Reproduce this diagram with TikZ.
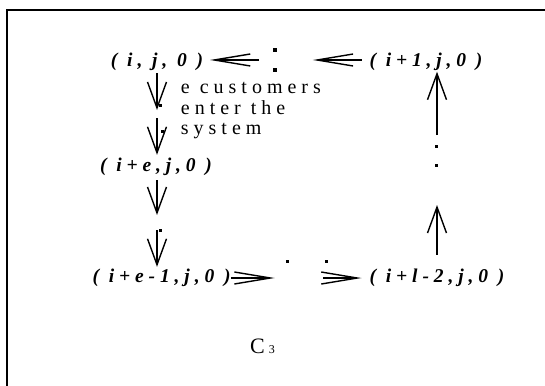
\documentclass[tikz,border=0pt]{standalone}
\usepackage{fontspec}
\setmainfont{Liberation Serif}
\newfontfamily\tuplefam{Liberation Serif}[LetterSpace=25]
\newfontfamily\notefam{Liberation Serif}[LetterSpace=25]
\usetikzlibrary{arrows.meta}

\tikzset{
  tuple/.style={inner sep=0pt, text height=12.5pt, text depth=4.5pt,
    font=\tuplefam\bfseries\itshape\fontsize{19.5}{22}\selectfont},
  dotn/.style={rectangle, fill, inner sep=0pt, minimum size=3pt},
  vtip/.style={line width=1.4pt, -{Straight Barb[length=26pt,width=19pt]}},
  htip/.style={line width=1.4pt, -{Straight Barb[length=36pt,width=12pt]}},
}

\begin{document}
\begin{tikzpicture}[x=1pt, y=-1pt]

\def\colL{157}
\def\colR{437}
\def\rowT{63}
\def\rowB{278}

\useasboundingbox (0,0) rectangle (545,385);
\draw[line width=2.3pt] (7,400) -- (7,10) -- (560,10);

% states
\node[tuple] (n0) at (\colL,\rowT) {( i, j, 0 )};
\node[tuple] (n1) at (426,\rowT) {( i+1,j,0 )};
\node[tuple] (ne) at (156,167.5) {( i+e,j,0 )};
\node[tuple] (ne1) at (161.6,\rowB) {( i+e-1,j,0 )};
\node[tuple] (nl2) at (\colR,\rowB) {( i+l-2,j,0 )};

% dots
\node[dotn, minimum size=4pt] (ca) at (274.6,50) {};
\node[dotn, minimum size=4pt] (cb) at (274.6,70) {};
\coordinate (cl) at (274.6,60);
\node[dotn] (d1) at (160.6,105) {};
\node[dotn] (d2) at (162.7,131.7) {};
\node[dotn] (d3) at (160,230) {};
\node[dotn] (d4) at (287.8,261.7) {};
\node[dotn] (d5) at (326.7,261.7) {};
\node[dotn] (d6) at (436,146.7) {};
\node[dotn] (d7) at (436,165.7) {};

\node[anchor=base west, align=left, inner sep=0pt,
  font=\notefam\fontsize{20}{20.3}\selectfont] (note) at (180.7,134.5)
  {e customers\\enter the\\system};

\node[anchor=base west, inner sep=0pt, font=\fontsize{22}{24}\selectfont] (cap) at (250,353)
  {C\hspace{4pt}{\fontsize{12}{13}\selectfont 3}};

% top row
\draw[htip, shorten <=15.6pt, shorten >=53pt] (cl) -- (n0.center |- cl);
\draw[htip, shorten <=64.5pt, shorten >=38.2pt] (n1.center |- cl) -- (cl);

% left column
\draw[vtip, shorten <=1.5pt, shorten >=-5pt] (n0.south) -- (n0.south |- d1);
\draw[vtip, shorten <=13pt, shorten >=4pt] (n0.south |- d1) -- (n0.south |- ne.north);
\draw[vtip, shorten <=4pt, shorten >=15pt] (n0.south |- ne.south) -- (n0.south |- d3);
\draw[vtip, shorten >=2.5pt] (n0.south |- d3) -- (n0.south |- ne1.north);

% bottom row
\draw[htip, shorten <=69.4pt, shorten >=13.2pt] (ne1.center) -- (ne1.center -| d4);
\draw[htip, shorten <=-3.7pt, shorten >=75.5pt] (ne1.center -| d5) -- (nl2.center);

% right column
\draw[vtip, shorten <=14.5pt, shorten >=39.3pt] (nl2.north) -- (nl2.north |- d7);
\draw[vtip, shorten <=11.7pt] (nl2.north |- d6) -- (nl2.north |- n1.south);

\end{tikzpicture}
\end{document}
